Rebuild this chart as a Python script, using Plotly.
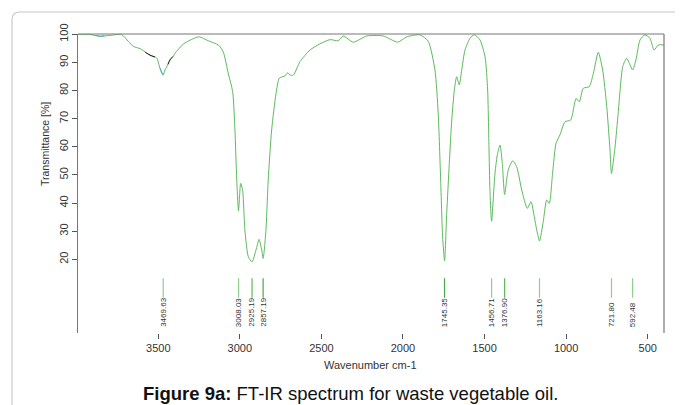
import plotly.graph_objects as go

# Spectrum (wavenumber cm-1, transmittance %)
wavenumber = [3992, 3919, 3857, 3796, 3724, 3684, 3653, 3612, 3571, 3551, 3510, 3490,
              3470, 3459, 3449, 3428, 3408, 3398, 3347, 3295, 3249, 3194, 3132, 3102,
              3071, 3044, 3030, 3019, 3008, 2995, 2983, 2969, 2948, 2925, 2901, 2882,
              2866, 2857, 2840, 2826, 2805, 2778, 2758, 2723, 2707, 2693, 2672, 2631,
              2570, 2509, 2447, 2397, 2366, 2305, 2222, 2121, 2032, 1977, 1896, 1845,
              1804, 1784, 1769, 1757, 1745, 1732, 1716, 1701, 1685, 1671, 1655, 1640,
              1620, 1589, 1563, 1528, 1497, 1481, 1473, 1467, 1457, 1436, 1420, 1405,
              1391, 1377, 1355, 1328, 1303, 1272, 1238, 1215, 1195, 1180, 1163, 1140,
              1119, 1103, 1083, 1062, 1038, 1007, 972, 939, 919, 895, 858, 833, 803,
              776, 751, 731, 722, 700, 681, 653, 629, 608, 592, 572, 547, 517, 486,
              461, 435, 400]
transmittance = [100, 99.9, 99.3, 99.6, 99.9, 97.5, 95.7, 94.9, 93.4, 92.6, 91.6, 88.0,
                 85.5, 87.3, 88.3, 90.9, 92.2, 93.2, 96.5, 98.2, 99.1, 97.7, 96.2, 93.8,
                 86.1, 79.6, 66.0, 48.2, 37.2, 47.0, 44.6, 30.4, 20.9, 19.1, 23.3, 27.1,
                 23.3, 20.3, 30.4, 48.2, 66.0, 79.0, 84.4, 85.2, 86.3, 85.5, 85.5, 90.3,
                 94.4, 96.6, 98.1, 97.7, 99.4, 97.2, 99.4, 99.4, 97.2, 99.1, 99.8, 97.5,
                 87.3, 71.9, 48.2, 28.0, 19.5, 36.3, 54.1, 69.5, 80.2, 84.9, 82.0, 87.3,
                 94.4, 98.6, 99.8, 98.0, 92.0, 80.2, 60.0, 44.6, 33.5, 50.6, 57.7, 60.6,
                 54.1, 43.0, 51.7, 55.0, 52.9, 44.6, 38.1, 40.5, 35.1, 30.4, 26.5, 33.5,
                 41.1, 39.9, 50.6, 61.2, 64.2, 68.9, 69.5, 77.2, 76.0, 80.8, 81.4, 86.1, 93.6,
                 87.3, 74.3, 58.9, 50.5, 60.0, 71.9, 88.5, 91.5, 89.1, 87.3, 90.9, 98.0, 99.8, 98.6,
                 94.4, 96.2, 96.2]

# small differently coloured segments near the O-H band
blue_wn_a = [3880, 3857, 3830]
blue_t_a = [99.6, 99.3, 99.5]
blue_wn_b = [3490, 3480, 3470]
blue_t_b = [88.0, 86.6, 85.5]
black_wn_a = [3580, 3551, 3520]
black_t_a = [93.6, 92.6, 91.9]
black_wn_b = [3440, 3428, 3410]
black_t_b = [89.3, 90.9, 92.1]

# peak markers
peak_wn = [3469.63, 3008.03, 2925.19, 2857.19, 1745.35, 1456.71, 1376.90, 1163.16, 721.80, 592.48]
peak_labels = ["3469.63", "3008.03", "2925.19", "2857.19", "1745.35", "1456.71",
               "1376.90", "1163.16", "721.80", "592.48"]
peak_colors = ["#8fd08f", "#8fd08f", "#5cb85c", "#4aa84a", "#4aa84a", "#8fd08f",
               "#5cb85c", "#8fd08f", "#8fd08f", "#8fd08f"]

x_ticks = [3500, 3000, 2500, 2000, 1500, 1000, 500]
y_ticks = [20, 30, 40, 50, 60, 70, 80, 90, 100]

GREEN = "#5cba5c"
fig = go.Figure()
fig.add_trace(go.Scatter(x=wavenumber, y=transmittance, mode="lines",
                         line=dict(color=GREEN, width=1.0, shape="spline", smoothing=0.6),
                         hoverinfo="skip"))
for xs, ys, c in [(blue_wn_a, blue_t_a, "#4da3e8"), (blue_wn_b, blue_t_b, "#4da3e8"),
                  (black_wn_a, black_t_a, "#222222"), (black_wn_b, black_t_b, "#222222")]:
    fig.add_trace(go.Scatter(x=xs, y=ys, mode="lines",
                             line=dict(color=c, width=1.0, shape="spline"), hoverinfo="skip"))

for w, c in zip(peak_wn, peak_colors):
    fig.add_trace(go.Scatter(x=[w, w], y=[13.3, 6.3], mode="lines",
                             line=dict(color=c, width=1.2), hoverinfo="skip"))

annotations = []
for w, lab in zip(peak_wn, peak_labels):
    annotations.append(dict(x=w, y=0.013, xref="x", yref="paper", text=lab, showarrow=False,
                            textangle=-90, xanchor="center", yanchor="bottom",
                            font=dict(size=8, color="#333333", family="Liberation Sans")))
annotations.append(dict(x=(370 - 78) / 586, y=(333 - 365) / 299, xref="paper", yref="paper",
                        text="Wavenumber cm-1", showarrow=False, xanchor="center", yanchor="middle",
                        font=dict(size=11, color="#333333", family="Liberation Sans")))
annotations.append(dict(x=(45 - 78) / 586, y=(333 - 144) / 299, xref="paper", yref="paper",
                        text="Transmittance [%]", showarrow=False, textangle=-90,
                        xanchor="center", yanchor="middle",
                        font=dict(size=10.5, color="#333333", family="Liberation Sans")))
annotations.append(dict(x=(350 - 78) / 586, y=(333 - 393) / 299, xref="paper", yref="paper",
                        text="<b>Figure 9a:</b> FT-IR spectrum for waste vegetable oil.",
                        showarrow=False, xanchor="center", yanchor="middle",
                        font=dict(size=18.5, color="#111111", family="Liberation Sans")))

L = -66 / 586
T = 321 / 299
rx, ry = 8 / 586, 8 / 299
shapes = [
    dict(type="path", xref="paper", yref="paper",
         path=f"M {L},-0.4 L {L},{T - ry} Q {L},{T} {L + rx},{T} L 1.1,{T}",
         line=dict(color="#c8c8c8", width=1.2)),
    dict(type="line", xref="paper", yref="paper", x0=0, x1=1, y0=1, y1=1,
         line=dict(color="#777777", width=1.2)),
    dict(type="line", xref="paper", yref="paper", x0=1, x1=1, y0=0, y1=1,
         line=dict(color="#777777", width=1.2)),
]

# the page places the figure 8 px in from the top-left corner
fig.update_layout(
    width=675, height=397,
    margin=dict(l=70, r=19, t=26, b=72),
    paper_bgcolor="white", plot_bgcolor="white",
    showlegend=False,
    font=dict(family="Liberation Sans", color="#333333"),
    annotations=annotations, shapes=shapes,
    xaxis=dict(range=[3992, 400], tickvals=x_ticks, ticktext=[str(v) for v in x_ticks],
               showgrid=False, zeroline=False, showline=False,
               ticks="outside", ticklen=5, tickcolor="#555555", tickwidth=1,
               tickfont=dict(size=11, color="#333333")),
    yaxis=dict(range=[-6.2, 100.1], tickvals=y_ticks, ticktext=[str(v) for v in y_ticks],
               showgrid=False, zeroline=False, showline=True, linecolor="#777777", linewidth=1.2,
               ticks="outside", ticklen=5, tickcolor="#555555", tickwidth=1, tickangle=-90,
               tickfont=dict(size=11, color="#333333")),
)

fig.write_html("out.html")
